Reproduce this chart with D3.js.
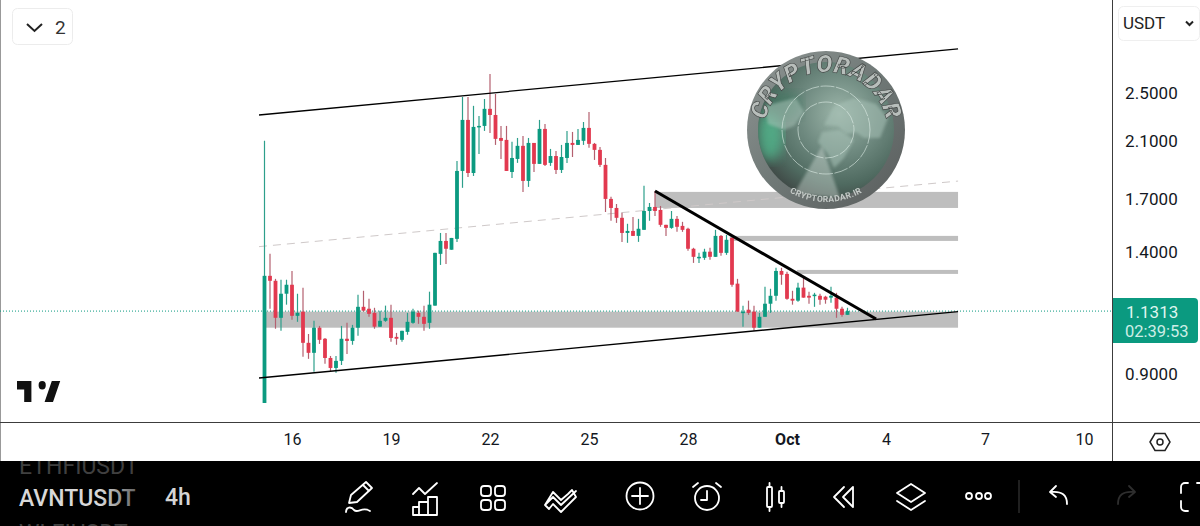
<!DOCTYPE html>
<html><head><meta charset="utf-8">
<style>html,body{margin:0;padding:0;background:#fff;overflow:hidden}svg{display:block;font-family:Roboto,sans-serif}</style>
<script src="https://cdn.jsdelivr.net/npm/d3@7"></script></head><body><svg id="c" width="1200" height="526"></svg>
<script>
const opens=[.810,1.286,1.263,1.104,1.205,1.245,1.112,1.129,1.008,.972,1.065,1.023,.954,.920,.944,1.023,1.015,1.065,1.149,1.141,1.124,1.069,1.092,1.104,1.030,1.019,1.049,1.084,1.124,1.108,1.084,1.154,1.393,1.460,1.414,1.471,1.883,2.267,1.869,2.210,2.218,2.360,2.308,2.123,2.108,1.876,1.967,2.063,1.816,2.085,1.932,2.194,1.939,1.988,1.890,1.974,2.085,2.070,2.101,2.202,2.078,2.033,1.925,1.701,1.646,1.588,1.503,1.514,1.487,1.520,1.628,1.652,1.634,1.548,1.531,1.582,1.542,1.526,1.419,1.373,1.373,1.404,1.378,1.487,1.398,1.476,1.250,1.124,1.137,1.129,1.065,1.108,1.162,1.196,1.309,1.295,1.183,1.175,1.232,1.196,1.196,1.196,1.192,1.188,1.188,1.141,1.116];
const highs=[2.101,1.393,1.272,1.268,1.268,1.309,1.205,1.232,1.041,1.092,1.072,1.026,.961,.961,1.072,1.084,1.076,1.201,1.218,1.183,1.145,1.133,1.154,1.158,1.045,1.053,1.124,1.141,1.133,1.154,1.214,1.398,1.503,1.503,1.476,1.953,2.464,2.464,2.386,2.300,2.446,2.679,2.491,2.218,2.218,2.093,2.123,2.139,2.123,2.085,2.267,2.234,2.040,2.025,2.070,2.178,2.170,2.194,2.250,2.334,2.085,2.055,1.974,1.714,1.670,1.617,1.554,1.593,1.582,1.784,1.676,1.751,1.658,1.548,1.628,1.599,1.565,1.531,1.424,1.398,1.419,1.424,1.520,1.492,1.492,1.482,1.272,1.154,1.175,1.154,1.124,1.236,1.227,1.324,1.324,1.305,1.218,1.254,1.277,1.214,1.209,1.205,1.196,1.236,1.209,1.149,1.145];
const lows=[.810,1.141,1.061,1.053,1.158,1.096,1.088,.958,.951,.907,1.004,.934,.910,.904,.930,.968,1.001,1.034,1.129,1.108,1.061,1.069,1.088,1.012,1.001,1.012,1.038,1.080,1.080,1.053,1.061,1.154,1.338,1.343,1.414,1.455,1.771,1.842,1.849,2.003,2.178,2.162,2.070,1.967,1.883,1.836,1.939,1.745,1.777,1.876,1.932,1.918,1.918,1.862,1.869,1.939,1.981,2.070,2.070,2.048,1.960,1.911,1.622,1.571,1.559,1.455,1.450,1.487,1.455,1.520,1.571,1.599,1.537,1.487,1.526,1.509,1.509,1.409,1.348,1.348,1.363,1.363,1.378,1.383,1.388,1.236,1.129,1.069,1.116,1.053,1.065,1.108,1.124,1.175,1.245,1.179,1.158,1.170,1.188,1.162,1.149,1.158,1.162,1.166,1.104,1.108,1.116];
const closes=[1.286,1.263,1.104,1.205,1.245,1.112,1.124,1.008,.972,1.065,1.019,.954,.920,.944,1.023,1.015,1.065,1.149,1.133,1.120,1.069,1.092,1.104,1.026,1.023,1.053,1.088,1.129,1.108,1.080,1.158,1.398,1.460,1.419,1.476,1.883,2.267,1.869,2.210,2.218,2.360,2.308,2.116,2.101,1.883,1.974,2.063,1.816,2.085,1.932,2.194,1.925,1.988,1.890,1.981,2.085,2.070,2.108,2.202,2.078,2.033,1.925,1.701,1.646,1.588,1.503,1.514,1.487,1.526,1.628,1.652,1.628,1.548,1.531,1.582,1.537,1.520,1.419,1.378,1.378,1.404,1.378,1.487,1.398,1.466,1.245,1.129,1.129,1.124,1.065,1.108,1.162,1.196,1.309,1.291,1.183,1.175,1.232,1.188,1.188,1.201,1.179,1.179,1.196,1.141,1.116,1.1313];
const priceTicks=[2.5,2.1,1.7,1.4,0.9];
const lastPrice=1.1313, countdown="02:39:53", quote="USDT";
const dateTicks=[16,19,22,25,28,31,34,37,40]; // days counted from 1 Sep
const dateLabels=["16","19","22","25","28","Oct","4","7","10"];
const trendUpper=[[-1,2.308],[126.1,2.934]];
const trendMiddle=[[-1,1.430],[126.1,1.815]];
const trendLower=[[-1,.887],[126.1,1.129]];
const trendDown=[[71,1.7505],[111.2,1.099]];
const zones=[[0,126.1,1.129,1.065],[71,126.1,1.745,1.646],[84.6,126.1,1.487,1.460],[96.8,126.1,1.314,1.295]];
const symbols=["ETHFIUSDT","AVNTUSDT","WLFIUSDT"];

const svg=d3.select("#c");
const defs=svg.append("defs");
const day=d=>new Date(Date.UTC(2025,8,d));
const x=d3.scaleUtc().domain([day(16),day(40)]).range([292,1084]);
const y=d3.scaleLog().domain([0.9,2.5]).range([374,93]);
const barTime=i=>new Date(day(16).getTime()+(i-5)*4*3600e3);
const X=i=>x(barTime(i));
const GREEN="#0b9a80",RED="#e2394f",GW="#2d9f8b",RW="#b4606f";

// ---- frame
svg.append("rect").attr("width",1200).attr("height",526).attr("fill","#fff");
svg.append("line").attr("x1",0.5).attr("x2",0.5).attr("y1",0).attr("y2",461).attr("stroke","#999");

// ---- zones
svg.append("g").selectAll("rect").data(zones).join("rect")
 .attr("x",d=>X(d[0])).attr("width",d=>X(d[1])-X(d[0]))
 .attr("y",d=>y(d[2])).attr("height",d=>y(d[3])-y(d[2])).attr("fill","#bebebe");

// ---- last price line
svg.append("line").attr("x1",0).attr("x2",1112).attr("y1",y(lastPrice)).attr("y2",y(lastPrice))
 .attr("stroke","#0b9a80").attr("stroke-width",1).attr("stroke-dasharray","1 2");

// ---- trendlines
const tl=d3.line().x(d=>X(d[0])).y(d=>y(d[1]));
svg.append("path").attr("d",tl(trendMiddle)).attr("fill","none").attr("stroke","#cfc9c9").attr("stroke-width",1).attr("stroke-dasharray","8 6");

// ---- candles
const idx=d3.range(opens.length);
const g=svg.append("g");
g.selectAll("line").data(idx).join("line")
 .attr("x1",X).attr("x2",X).attr("y1",i=>y(highs[i])).attr("y2",i=>y(lows[i]))
 .attr("stroke",i=>closes[i]>=opens[i]?GW:RW).attr("stroke-width",1.2);
g.selectAll("rect").data(idx).join("rect")
 .attr("x",i=>X(i)-1.9).attr("width",3.8)
 .attr("y",i=>y(Math.max(opens[i],closes[i])))
 .attr("height",i=>Math.max(1.5,Math.abs(y(opens[i])-y(closes[i]))))
 .attr("fill",i=>closes[i]>=opens[i]?GREEN:RED);

[[trendUpper,1.3],[trendLower,1.4],[trendDown,3]].forEach(([d,w])=>{
 svg.append("path").attr("d",tl(d)).attr("fill","none").attr("stroke","#000").attr("stroke-width",w);
});

// ---- logo
const rim=defs.append("linearGradient").attr("id","rim").attr("x1",0).attr("y1",0).attr("x2",1).attr("y2",1);
[["0","#8f9694"],["0.5","#6f7876"],["1","#595c5c"]].forEach(s=>rim.append("stop").attr("offset",s[0]).attr("stop-color",s[1]));
const face=defs.append("radialGradient").attr("id","face").attr("cx",.6).attr("cy",.38).attr("r",.65);
[["0","#9db6aa"],["0.45","#6f8a80"],["0.8","#4f6a60"],["1","#414d49"]].forEach(s=>face.append("stop").attr("offset",s[0]).attr("stop-color",s[1]));
defs.append("filter").attr("id","b2").append("feGaussianBlur").attr("stdDeviation",1.6);
defs.append("filter").attr("id","b6").append("feGaussianBlur").attr("stdDeviation",6);
defs.append("filter").attr("id","b1").append("feGaussianBlur").attr("stdDeviation",.35);
defs.append("clipPath").attr("id","lc").append("circle").attr("r",68);
const L=svg.append("g").attr("transform","translate(826,130)");
L.append("circle").attr("r",79).attr("fill","url(#rim)");
L.append("circle").attr("r",68).attr("fill","url(#face)");
const Li=L.append("g").attr("clip-path","url(#lc)");
Li.append("ellipse").attr("cx",-56).attr("cy",5).attr("rx",13).attr("ry",26).attr("fill","#52c394").attr("opacity",.7).attr("filter","url(#b6)");
Li.append("ellipse").attr("cx",-42).attr("cy",-25).attr("rx",18).attr("ry",14).attr("fill","#3d7a62").attr("opacity",.55).attr("filter","url(#b6)");
const land=[
 "M-2,-5 L8,-24 L28,-32 L50,-26 L62,-12 L54,8 L38,8 L30,2 L20,4 L12,-4 Z",
 "M-4,2 L14,0 L28,10 L18,28 L8,38 L2,24 L-8,12 Z",
 "M-62,-24 L-30,-32 L-22,-18 L-32,-4 L-42,0 L-58,-6 Z"];
Li.selectAll("path.land").data(land).join("path").attr("class","land").attr("d",d=>d).attr("fill","#a8c2b7").attr("opacity",.55).attr("filter","url(#b2)");
Li.append("path").attr("d","M-4,16 L-32,64 L14,68 Z").attr("fill","#dfe8e3").attr("opacity",.38).attr("filter","url(#b2)");
[28,44].forEach(r=>Li.append("circle").attr("r",r).attr("fill","none").attr("stroke","#dfeee8").attr("stroke-width",.8).attr("opacity",.75).attr("stroke-dasharray","14 1.5"));
defs.append("path").attr("id","arcTop").attr("d","M-62,4 A62,62 0 0 1 62,4");
defs.append("path").attr("id","arcBot").attr("d","M-72,0 A71,71 0 0 0 72,0");
const t1=L.append("text").attr("font-size",24).attr("font-weight",900).attr("font-style","italic").attr("fill","#b8bebb").attr("stroke","#3e4241").attr("stroke-width",.6).attr("filter","url(#b1)");
t1.append("textPath").attr("href","#arcTop").attr("startOffset","50%").attr("text-anchor","middle").text("CRYPTORADAR");
const t2=L.append("text").attr("font-size",8.5).attr("font-weight",700).attr("fill","#c4cac7").attr("filter","url(#b1)");
t2.append("textPath").attr("href","#arcBot").attr("startOffset","50%").attr("text-anchor","middle").attr("letter-spacing",.4).text("CRYPTORADAR.IR");

// ---- axes lines
svg.append("line").attr("x1",0).attr("x2",1200).attr("y1",422.5).attr("y2",422.5).attr("stroke","#3c3c3c");
svg.append("line").attr("x1",1112.5).attr("x2",1112.5).attr("y1",0).attr("y2",461).attr("stroke","#3c3c3c");

// ---- y axis
const ya=svg.append("g").attr("transform","translate(1125,0)")
 .call(d3.axisRight(y).tickValues(priceTicks).tickSize(0).tickPadding(0).tickFormat(d3.format(".4f")));
ya.select(".domain").remove();
ya.selectAll("text").attr("font-family","Roboto,sans-serif").attr("font-size",17).attr("fill","#131722").attr("letter-spacing",.1);

// ---- x axis
const xa=svg.append("g").attr("transform","translate(0,423)")
 .call(d3.axisBottom(x).tickValues(dateTicks.map(day)).tickSize(0).tickPadding(11).tickFormat((d,i)=>dateLabels[i]));
xa.select(".domain").remove();
xa.selectAll("text").attr("font-family","Roboto,sans-serif").attr("font-size",16).attr("fill","#131722")
 .attr("font-weight",(d,i)=>dateLabels[i]==="Oct"?700:400);

// ---- price label
svg.append("path").attr("d","M1113,298 H1194 a4,4 0 0 1 4,4 V339 a4,4 0 0 1 -4,4 H1113 Z").attr("fill",GREEN);
svg.append("text").attr("x",1126).attr("y",y(lastPrice)+7).attr("font-size",17).attr("fill","#dff5ef").text(d3.format(".4f")(lastPrice));
svg.append("text").attr("x",1125).attr("y",337).attr("font-size",16.5).attr("fill","#cdeee6").text(countdown);

// ---- top-left pill
svg.append("rect").attr("x",12.5).attr("y",8.5).attr("width",60).attr("height",36).attr("rx",5).attr("fill","#fff").attr("stroke","#ececec");
svg.append("path").attr("d","M27,24 L34.5,31 L42,24").attr("fill","none").attr("stroke","#222").attr("stroke-width",2);
svg.append("text").attr("x",55).attr("y",34).attr("font-size",19).attr("fill","#333").text("2");
// ---- currency pill
svg.append("rect").attr("x",1118.5).attr("y",6.5).attr("width",81).attr("height",34).attr("rx",5).attr("fill","#fff").attr("stroke","#efefef");
svg.append("text").attr("x",1123).attr("y",29).attr("font-size",17).attr("fill","#222").text(quote);
svg.append("path").attr("d","M1186,21.5 L1189.5,25 L1193,21.5").attr("fill","none").attr("stroke","#222").attr("stroke-width",2);
// ---- settings hexagon
svg.append("path").attr("d","M1150,442 L1155,433.5 H1165 L1170,442 L1165,450.5 H1155 Z").attr("fill","none").attr("stroke","#222").attr("stroke-width",1.5);
svg.append("circle").attr("cx",1160).attr("cy",442).attr("r",3).attr("fill","none").attr("stroke","#222").attr("stroke-width",1.5);

// ---- TradingView mark
svg.append("path").attr("transform","translate(14.6,372.6) scale(1.2,1.4)")
 .attr("d","M14 6H2v6h6v9h6V6zm18 15h-7l6-15h7l-6 15zm-9-9a3 3 0 100-6 3 3 0 000 6z").attr("fill","#111");

// ---- toolbar
svg.append("rect").attr("y",461).attr("width",1200).attr("height",65).attr("fill","#000");
defs.append("clipPath").attr("id","sym").append("rect").attr("x",0).attr("y",461).attr("width",141).attr("height",65);
const fade=defs.append("linearGradient").attr("id","fade").attr("gradientUnits","userSpaceOnUse").attr("x1",100).attr("x2",141).attr("y1",0).attr("y2",0);
fade.append("stop").attr("offset",0).attr("stop-color","#d8d8d8");fade.append("stop").attr("offset",1).attr("stop-color","#555");
const sg=svg.append("g").attr("clip-path","url(#sym)").attr("font-size",23).attr("font-weight",400);
sg.append("text").attr("x",19).attr("y",474).attr("fill","#404040").text(symbols[0]);
sg.append("text").attr("x",19).attr("y",506).attr("fill","url(#fade)").attr("font-weight",500).text(symbols[1]);
sg.append("text").attr("x",19).attr("y",541).attr("fill","#404040").text(symbols[2]);
svg.append("text").attr("x",165).attr("y",505).attr("font-size",23).attr("font-weight",500).attr("fill","#d4d4d4").text("4h");

const ic=svg.append("g").attr("fill","none").attr("stroke","#fff").attr("stroke-width",1.8).attr("stroke-linecap","round").attr("stroke-linejoin","round");
const p=d=>ic.append("path").attr("d",d);
p("M349,503 L351,495 L366,482 L372,488 L357,502 Z M363,485 L369,491");
p("M346,512 C346,507 351,506 354,510 C358,514 362,506 370,511");
p("M413,494 L419,488 L425,494 L437,483");
p("M413,515 V507 H419 V515 M419,515 V502 H428 V515 M428,515 V497 H437 V515 M413,515 H437");
[[481,486],[481,500],[495,486],[495,500]].forEach(a=>ic.append("rect").attr("x",a[0]).attr("y",a[1]).attr("width",10).attr("height",10).attr("rx",3));
p("M545,505 L553,497 L561,505 L576,491 M545,505 L549,509 L553,504 L561,512 L576,497 L572,490 L568,494 L561,500 L553,492 Z");
ic.append("circle").attr("cx",640).attr("cy",496).attr("r",13.5);
p("M632,496 H648 M640,488 V504");
ic.append("circle").attr("cx",707).attr("cy",498).attr("r",12);
p("M707,491 V500 H701 M693,487 L698,483 M721,487 L716,483");
ic.append("rect").attr("x",767).attr("y",487).attr("width",5).attr("height",20).attr("rx",1);
p("M769.5,483 V487 M769.5,507 V511");
ic.append("rect").attr("x",779).attr("y",491).attr("width",5).attr("height",12).attr("rx",1);
p("M781.5,487 V491 M781.5,503 V507");
p("M844,487 L834,497 L844,507 M853,487 L843,497 L853,507 V487");
p("M911,484 L925,493 L911,502 L897,493 Z M897,501 L911,510 L925,501");
[969,979,988].forEach(cx=>ic.append("circle").attr("cx",cx).attr("cy",496).attr("r",3));
svg.append("line").attr("x1",1019).attr("x2",1019).attr("y1",480).attr("y2",513).attr("stroke","#2b2b2b").attr("stroke-width",1.5);
p("M1067,504 C1067,495 1062,491 1051,492 M1056,486 L1050,492 L1056,497");
ic.append("path").attr("d","M1118,504 C1118,495 1123,491 1134,492 M1129,486 L1135,492 L1129,497").attr("stroke","#2e2e2e");
p("M1188,483 H1185 a4,4 0 0 0 -4,4 V493 M1181,501 V507 a4,4 0 0 0 4,4 H1188 M1197,483 H1200");
</script></body></html>
